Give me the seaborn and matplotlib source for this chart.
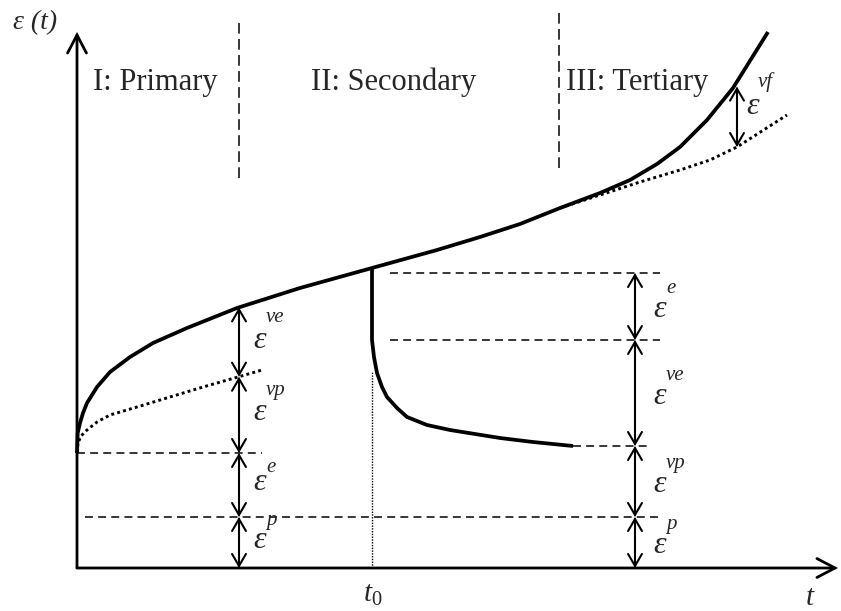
import numpy as np
import pandas as pd
import matplotlib
matplotlib.use("Agg")
import matplotlib.pyplot as plt
import seaborn as sns
from matplotlib.patches import FancyArrowPatch

# ---- data (time, strain) in schematic units ----
# total creep curve
creep_t = [0, 0.7, 3, 6, 10, 20, 33, 53, 76, 110, 160, 223, 295, 360, 403, 443,
           483, 523, 553, 580, 603, 630, 656, 691]
creep_eps = [115, 135, 145, 155, 165, 181, 196, 211, 225, 240, 260, 280, 300, 318, 331, 344,
             360, 375, 388, 404, 421, 448, 480, 536]

# viscoplastic contribution during primary creep
vp_t = [0, 1, 4, 10, 20, 33, 60, 93, 126, 161, 185]
vp_eps = [115, 125, 132, 138, 146, 153, 161, 171, 181, 191, 198]

# secondary-creep trend extended into the tertiary stage
sec_t = [483, 523, 563, 603, 633, 660, 710]
sec_eps = [360, 373, 386, 398, 408, 421, 453]

# recovery after unloading at t0
rec_t = [295, 295, 297, 300, 305, 310, 320, 330, 350, 373, 423, 456, 496]
rec_eps = [300, 228, 211, 195, 181, 171, 160, 151, 143, 138, 130, 126, 122]

t0 = 295
phase_bounds = [162, 482]
phase_names = ["I: Primary", "II: Secondary", "III: Tertiary"]

eps_p = 51          # plastic strain level
eps_init = 115      # instantaneous strain level
right_levels = [0, 51, 122, 228, 295]
right_labels = ["p", "vp", "ve", "e"]
left_labels = ["p", "e", "vp", "ve"]

# ---- style ----
sns.set_theme(style="white")
plt.rcParams["font.family"] = ["Liberation Serif", "DejaVu Serif"]
plt.rcParams["mathtext.fontset"] = "custom"
plt.rcParams["mathtext.it"] = "Liberation Serif:italic"
plt.rcParams["mathtext.rm"] = "Liberation Serif"

fig = plt.figure(figsize=(8.41, 6.11), dpi=100)
ax = fig.add_axes([0, 0, 1, 1])
ax.set_xlim(-77, 764)
ax.set_ylim(-43, 568)
ax.axis("off")

K = "black"

# ---- curves ----
sns.lineplot(x=creep_t, y=creep_eps, ax=ax, color=K, lw=2.7, sort=False,
             estimator=None, solid_capstyle="butt", solid_joinstyle="round")
sns.lineplot(x=rec_t, y=rec_eps, ax=ax, color=K, lw=2.7, sort=False,
             estimator=None, solid_capstyle="butt", solid_joinstyle="round")
sns.lineplot(x=vp_t, y=vp_eps, ax=ax, color=K, lw=2.1, sort=False,
             estimator=None, linestyle=(0, (1, 1.1)))
sns.lineplot(x=sec_t, y=sec_eps, ax=ax, color=K, lw=2.1, sort=False,
             estimator=None, linestyle=(0, (1, 1.1)))

# unloading time marker
ax.plot([t0, t0], [0, 196], color=K, lw=1.0, linestyle=(0, (1, 1)))

# phase boundaries
ax.plot([phase_bounds[0]] * 2, [390, 548], color=K, lw=1.1, linestyle=(0, (7, 3.5)))
ax.plot([phase_bounds[1]] * 2, [400, 556], color=K, lw=1.1, linestyle=(0, (7, 3.5)))

# horizontal reference levels
dash = (0, (5.2, 3.4))
ax.plot([0, vp_t[-1]], [eps_init, eps_init], color=K, lw=1.1, linestyle=dash)
ax.plot([8, 583], [eps_p, eps_p], color=K, lw=1.1, linestyle=dash)
ax.plot([313, 583], [right_levels[4]] * 2, color=K, lw=1.1, linestyle=dash)
ax.plot([313, 583], [right_levels[3]] * 2, color=K, lw=1.1, linestyle=dash)
ax.plot([rec_t[-1], 573], [right_levels[2]] * 2, color=K, lw=1.1, linestyle=dash)


def arrow(p0, p1, style, lw=1.5, hl=8.6, hw=5.0):
    ax.add_patch(FancyArrowPatch(p0, p1, arrowstyle=f"{style},head_length={hl},head_width={hw}",
                                 mutation_scale=1, lw=lw, color=K,
                                 shrinkA=0, shrinkB=0, joinstyle="miter"))


# coordinate axes
arrow((0, 0), (761, 0), "->", lw=2.0, hl=13, hw=6.8)
arrow((0, 0), (0, 536), "->", lw=2.0, hl=13, hw=6.8)

eps_fs = 23
sup_fs = 15


def strain_label(x, y, sup, dx=6, dy=21):
    ax.text(x, y, "ε", fontsize=eps_fs, style="italic", ha="center", va="center")
    ax.text(x + dx, y + dy, sup, fontsize=sup_fs, style="italic", ha="left", va="center")


# strain components measured during loading
t_left = phase_bounds[0]
left_levels = [0, eps_p, eps_init,
               float(np.interp(t_left, vp_t, vp_eps)),
               float(np.interp(t_left, creep_t, creep_eps))]
left_dy = [20, 15, 22, 23]
for lo, hi, lab, dy in zip(left_levels[:-1], left_levels[1:], left_labels, left_dy):
    arrow((t_left, lo), (t_left, hi), "<->")
    strain_label(t_left + 21, (lo + hi) / 2 + 2, lab, dy=dy)

# strain components after unloading
t_right = 558
for lo, hi, lab in zip(right_levels[:-1], right_levels[1:], right_labels):
    arrow((t_right, lo), (t_right, hi), "<->")
    strain_label(t_right + 25, (lo + hi) / 2 - 3, lab)

# tertiary (viscous failure) component
t_vf = sec_t[5]
arrow((t_vf, sec_eps[5]), (t_vf, float(np.interp(t_vf, creep_t, creep_eps)) - 5), "<->")
strain_label(t_vf + 16, 461, "vf", dx=5, dy=25)

# stage titles
title_fs = 22
ax.text(16, 478, phase_names[0], fontsize=title_fs, ha="left", va="baseline")
ax.text(234, 478, phase_names[1], fontsize=title_fs, ha="left", va="baseline")
ax.text(489, 478, phase_names[2], fontsize=title_fs, ha="left", va="baseline")

# axis labels
ax.text(-42, 545, "ε (t)", fontsize=20, style="italic", ha="center", va="center")
ax.text(733, -30, "t", fontsize=21, style="italic", ha="center", va="center")
ax.text(296, -27, r"$\mathit{t}_{\mathit{0}}$", fontsize=21, ha="center", va="center")

fig.savefig("out.png", dpi=100)
